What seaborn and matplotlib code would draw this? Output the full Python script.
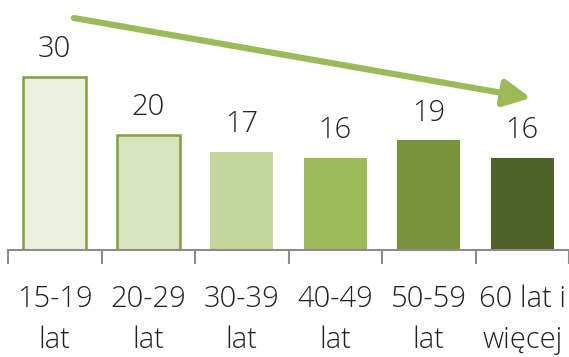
import matplotlib
matplotlib.use("Agg")
import matplotlib.pyplot as plt
import seaborn as sns
import pandas as pd

categories = ["15-19\nlat", "20-29\nlat", "30-39\nlat", "40-49\nlat", "50-59\nlat", "60 lat i\nwięcej"]
values = [30, 20, 17, 16, 19, 16]
colors = ["#EBF1DE", "#D7E4BD", "#C3D69B", "#9BBB59", "#77933C", "#4F6228"]

sns.set_theme(style="white")
plt.rcParams["font.family"] = ["Open Sans", "DejaVu Sans"]

df = pd.DataFrame({"cat": categories, "val": values})

fig = plt.figure(figsize=(5.69, 3.57), dpi=100)
ax = fig.add_axes([8/569, 107/357, 1 - 8/569, 250/357])
sns.barplot(data=df, x="cat", y="val", hue="cat", palette=colors, legend=False,
            width=0.67, ax=ax, saturation=1)

for i, p in enumerate(ax.patches):
    if i < 2:
        p.set_edgecolor("#7F9F41")
        p.set_linewidth(1.8)
    else:
        p.set_linewidth(0)

for i, v in enumerate(values):
    ax.text(i, v + 2.2, str(v), ha="center", va="bottom", fontsize=21,
            fontweight="light", color="#222222")

ax.set_ylim(0, 43.35)
ax.set_xlim(-0.5, 5.5)
for s in ["top", "right", "left"]:
    ax.spines[s].set_visible(False)
ax.spines["bottom"].set_color("#8C8C8C")
ax.spines["bottom"].set_linewidth(1.5)
ax.set_yticks([])
ax.set_xlabel("")
ax.set_ylabel("")
ax.set_xticks(range(len(categories)))
ax.set_xticklabels(categories, fontsize=21, fontweight="light", color="#222222", linespacing=1.5)
ax.tick_params(axis="x", which="major", length=0, pad=25)
ax.set_xticks([i - 0.5 for i in range(len(categories) + 1)], minor=True)
ax.tick_params(axis="x", which="minor", length=10, width=1.5, color="#8C8C8C", direction="out", bottom=True)

fig.patches.append(matplotlib.patches.FancyArrowPatch(
    (74/569, 1 - 18/357), (531/569, 1 - 98/357), transform=fig.transFigure,
    arrowstyle="-|>,head_length=0.9,head_width=0.45", mutation_scale=18,
    color="#9BBB59", linewidth=4.5, shrinkA=0, shrinkB=0))

fig.savefig("out.png", dpi=100)
